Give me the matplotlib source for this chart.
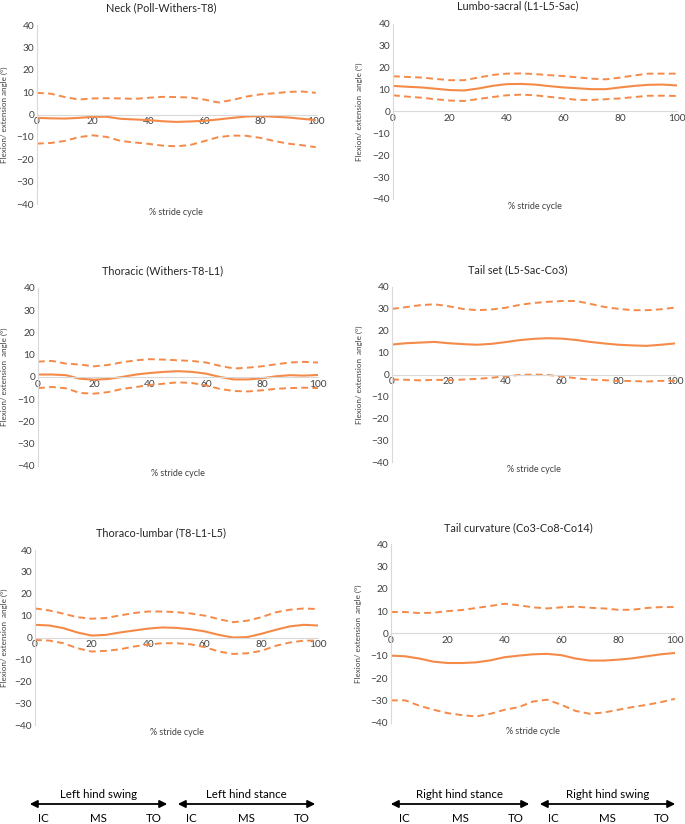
import numpy as np
import matplotlib.pyplot as plt
from matplotlib.patches import FancyArrowPatch

plt.rcParams['font.family'] = ['Lato', 'DejaVu Sans']

ORANGE = '#F58A48'
GRID = '#d9d9d9'

stride = [0, 5, 10, 15, 20, 25, 30, 35, 40, 45, 50, 55, 60, 65, 70, 75, 80, 85, 90, 95, 100]

neck_up = [9.7, 9.3, 7.8, 6.7, 7.2, 7.3, 7.2, 7.0, 7.5, 7.9, 7.8, 7.6, 6.7, 5.4, 6.5, 8.0, 9.0, 9.5, 10.1, 10.3, 9.7]
neck_mean = [-1.5, -1.7, -1.8, -1.5, -1.0, -1.0, -1.9, -2.2, -2.5, -3.0, -3.3, -3.1, -2.8, -2.2, -1.5, -0.9, -0.7, -1.0, -1.3, -1.9, -2.5]
neck_low = [-13, -12.7, -11.8, -10.1, -9.3, -10, -11.8, -12.5, -13.1, -13.9, -14.2, -13.6, -11.9, -10.1, -9.4, -9.5, -10.4, -11.8, -13, -13.7, -14.6]

lumbo_up = [16.1, 15.8, 15.5, 14.9, 14.3, 14.3, 15.5, 16.7, 17.3, 17.4, 17.1, 16.6, 16.2, 15.6, 15.0, 14.7, 15.5, 16.5, 17.3, 17.3, 17.3]
lumbo_mean = [11.7, 11.3, 11.0, 10.4, 9.8, 9.6, 10.5, 11.7, 12.5, 12.6, 12.3, 11.6, 11.0, 10.6, 10.2, 10.2, 11.0, 11.7, 12.2, 12.3, 11.9]
lumbo_low = [7.4, 6.8, 6.3, 5.6, 5.0, 4.8, 5.7, 6.6, 7.4, 7.7, 7.4, 6.7, 6.0, 5.3, 5.3, 5.6, 6.0, 6.6, 7.2, 7.2, 7.1]

thor_up = [6.9, 7.2, 6.0, 5.6, 4.8, 5.4, 6.6, 7.5, 8.0, 7.8, 7.5, 7.2, 6.5, 5.0, 3.8, 4.2, 4.8, 5.7, 6.5, 6.8, 6.5]
thor_mean = [1.1, 1.1, 0.8, -0.8, -1.2, -0.9, 0.0, 1.1, 1.8, 2.3, 2.6, 2.3, 1.5, 0.0, -1.1, -1.1, -0.6, 0.3, 0.8, 0.6, 0.9]
thor_low = [-5, -4.5, -5.1, -7.2, -7.5, -6.8, -5.4, -4.5, -3.6, -3.0, -2.4, -2.7, -3.8, -5.4, -6.3, -6.5, -6.0, -5.3, -5.0, -4.8, -5.0]

tailset_up = [30, 30.8, 31.7, 32.1, 31.2, 30, 29.4, 29.7, 30.5, 31.8, 32.7, 33.2, 33.6, 33.6, 32.3, 30.9, 30, 29.4, 29.4, 29.8, 30.6]
tailset_mean = [13.7, 14.3, 14.6, 14.9, 14.3, 13.9, 13.6, 14, 14.8, 15.7, 16.3, 16.6, 16.4, 15.8, 14.9, 14.2, 13.6, 13.3, 13.1, 13.6, 14.2]
tailset_low = [-2.3, -2.4, -2.7, -2.4, -2.6, -2.3, -2, -1.5, -0.8, -0.2, 0, -0.2, -0.9, -1.7, -2.3, -2.6, -2.9, -3, -3.2, -2.9, -2.9]

tl_up = [13.3, 12.4, 10.9, 9.3, 8.6, 8.9, 10.1, 11.2, 11.9, 11.9, 11.6, 11, 10, 8.4, 7, 7.7, 9.3, 11.5, 12.7, 13.3, 13]
tl_mean = [5.8, 5.5, 4.3, 2.3, 0.9, 1.2, 2.3, 3.2, 4.1, 4.6, 4.4, 3.8, 2.8, 1.2, 0, 0.2, 1.7, 3.5, 5.1, 5.8, 5.5]
tl_low = [-1.1, -1.4, -2.6, -4.9, -6.4, -6.1, -5.4, -4.1, -3.2, -2.6, -2.6, -3.1, -4.4, -6.4, -7.5, -7.2, -6.1, -3.8, -2.3, -1.4, -1.4]

tc_up = [9.6, 9.6, 9.1, 9.3, 10, 10.5, 11.4, 12.3, 13.3, 12.6, 11.7, 11.2, 11.7, 12, 11.5, 11.2, 10.6, 10.6, 11.4, 11.8, 11.8]
tc_mean = [-9.9, -10.2, -11.2, -12.6, -13.2, -13.2, -12.9, -12, -10.6, -9.9, -9.3, -9.1, -9.7, -11.2, -12.1, -12.1, -11.7, -11.1, -10.2, -9.3, -8.7]
tc_low = [-29.9, -29.9, -32.3, -34.1, -35.6, -36.5, -37.1, -35.9, -34.1, -32.9, -30.4, -29.6, -31.9, -34.6, -35.9, -35.3, -34.1, -32.9, -31.9, -30.7, -29.2]

titles = ['Neck (Poll-Withers-T8)', 'Lumbo-sacral (L1-L5-Sac)',
          'Thoracic (Withers-T8-L1)', 'Tail set (L5-Sac-Co3)',
          'Thoraco-lumbar (T8-L1-L5)', 'Tail curvature (Co3-Co8-Co14)']
ylabels = ['Flexion/ extension angle (°)'] + ['Flexion/ extension  angle (°)'] * 5
series = [(neck_up, neck_mean, neck_low), (lumbo_up, lumbo_mean, lumbo_low),
          (thor_up, thor_mean, thor_low), (tailset_up, tailset_mean, tailset_low),
          (tl_up, tl_mean, tl_low), (tc_up, tc_mean, tc_low)]

# axes boxes in figure fraction [left, bottom, width, height]
boxes = [[0.054, 0.7524, 0.407, 0.2172], [0.5737, 0.7585, 0.4146, 0.2124],
         [0.0555, 0.4345, 0.4087, 0.216], [0.5723, 0.4393, 0.4131, 0.2124],
         [0.0511, 0.1201, 0.4131, 0.2124], [0.5708, 0.1226, 0.4146, 0.2172]]
title_pos = [(0.236, 0.990), (0.756, 0.993), (0.238, 0.671), (0.756, 0.672),
             (0.235, 0.353), (0.757, 0.360)]
# y label centre, figure fraction
ylabel_x = [0.012, 0.530, 0.012, 0.530, 0.011, 0.529]

fig = plt.figure(figsize=(6.85, 8.24), dpi=100)

for i in range(6):
    ax = fig.add_axes(boxes[i])
    up, mean, low = series[i]
    ax.plot(stride, up, color=ORANGE, lw=1.4, dashes=(3.5, 2.2))
    ax.plot(stride, mean, color=ORANGE, lw=1.5)
    ax.plot(stride, low, color=ORANGE, lw=1.4, dashes=(3.5, 2.2))
    ax.set_xlim(0, 100)
    ax.set_ylim(-40, 40)
    ax.set_xticks(range(0, 101, 20))
    ax.set_yticks(range(-40, 41, 10))
    for s in ['top', 'right']:
        ax.spines[s].set_visible(False)
    ax.spines['left'].set_color(GRID)
    ax.spines['bottom'].set_color(GRID)
    ax.spines['bottom'].set_position(('data', 0))
    ax.tick_params(length=0, labelsize=7.3, labelcolor='#404040', pad=2)
    ax.set_ylabel(ylabels[i], fontsize=5.8, color='#404040')
    ax.yaxis.set_label_coords((ylabel_x[i] - boxes[i][0]) / boxes[i][2], 0.5)
    ax.text(0.5, -0.045, '% stride cycle', transform=ax.transAxes,
            ha='center', va='center', fontsize=6.5, color='#404040')
    fig.text(title_pos[i][0], title_pos[i][1], titles[i], ha='center', va='center',
             fontsize=7.8, color='#262626')

# gait phase arrows at the bottom
arrow_x = [(27, 170), (175, 318), (388, 532), (537, 678)]
phase_names = ['Left hind swing', 'Left hind stance', 'Right hind stance', 'Right hind swing']
event_names = ['IC', 'MS', 'TO']
W, H = 685.0, 824.0
for (x0, x1), name in zip(arrow_x, phase_names):
    fig.patches.append(FancyArrowPatch(
        (x0 / W, 1 - 804 / H), (x1 / W, 1 - 804 / H), transform=fig.transFigure,
        arrowstyle='<|-|>', mutation_scale=11, color='black', lw=1.3))
    fig.text((x0 + x1) / 2 / W, 1 - 795 / H, name, ha='center', va='center', fontsize=8.3)
    for k, ev in enumerate(event_names):
        ex = x0 + 16 + k * (x1 - x0 - 32) / 2
        fig.text(ex / W, 1 - 818 / H, ev, ha='center', va='center', fontsize=8.3)

fig.savefig('out.png', dpi=100)
